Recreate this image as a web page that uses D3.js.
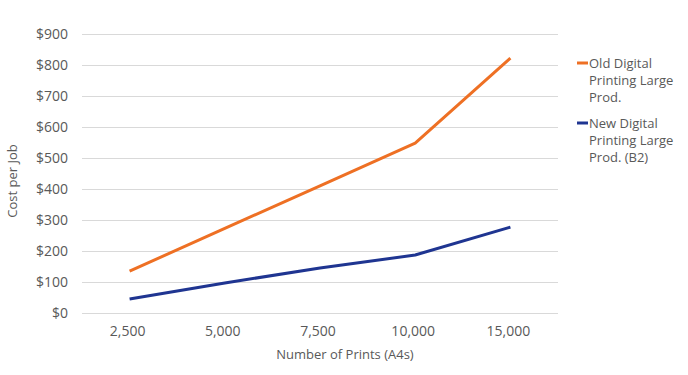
<!DOCTYPE html>
<html>
<head>
<meta charset="utf-8">
<script src="https://cdn.jsdelivr.net/npm/d3@7"></script>
<style>
  body { margin: 0; background: #fff; }
  svg text { font-family: "Open Sans", "Noto Sans", sans-serif; fill: #595959; }
</style>
</head>
<body>
<svg id="chart" width="688" height="375"></svg>
<script>
var categories = ['2,500', '5,000', '7,500', '10,000', '15,000'];
var oldDigital = [135, 273, 410, 548, 822];
var newDigital = [45, 97, 145, 187, 277];
var yTicks = [0, 100, 200, 300, 400, 500, 600, 700, 800, 900];
var seriesNames = [['Old Digital', 'Printing Large', 'Prod.'], ['New Digital', 'Printing Large', 'Prod. (B2)']];
var seriesColors = ['#ee7024', '#1f3591'];

var svg = d3.select('#chart');
var plotLeft = 82, plotRight = 558, plotTop = 34, plotBottom = 313;

var x = d3.scaleBand().domain(categories).range([plotLeft, plotRight]);
var y = d3.scaleLinear().domain([0, 900]).range([plotBottom, plotTop]);

// gridlines
svg.append('g').selectAll('line').data(yTicks)
  .enter().append('line')
  .attr('x1', plotLeft).attr('x2', plotRight)
  .attr('y1', function(d){ return y(d) + 0.5; })
  .attr('y2', function(d){ return y(d) + 0.5; })
  .attr('stroke', '#d9d9d9').attr('stroke-width', 1);

// y axis labels
var yAxis = d3.axisLeft(y).tickValues(yTicks).tickSize(0).tickPadding(0)
  .tickFormat(function(d){ return '$' + d; });
var yg = svg.append('g').attr('transform', 'translate(68,0)').call(yAxis);
yg.select('.domain').remove();
yg.selectAll('text').attr('font-size', 14).attr('fill', '#595959');

// x axis labels
var xAxis = d3.axisBottom(x).tickSize(0).tickPadding(0);
var xg = svg.append('g').attr('transform', 'translate(-2,' + 326 + ')').call(xAxis);
xg.select('.domain').remove();
xg.selectAll('text').attr('font-size', 14).attr('fill', '#595959');

// axis titles
svg.append('text').attr('x', 345).attr('y', 359)
  .attr('text-anchor', 'middle').attr('font-size', 13).text('Number of Prints (A4s)');
svg.append('text').attr('transform', 'translate(17,181) rotate(-90)')
  .attr('text-anchor', 'middle').attr('font-size', 13).text('Cost per Job');

// lines
var line = d3.line()
  .x(function(d, i){ return x(categories[i]) + x.bandwidth() / 2; })
  .y(function(d){ return y(d); });

[oldDigital, newDigital].forEach(function(s, i){
  svg.append('path').datum(s)
    .attr('d', line)
    .attr('fill', 'none')
    .attr('stroke', seriesColors[i])
    .attr('stroke-width', 3)
    .attr('stroke-linejoin', 'round');
});

// legend
var lg = svg.append('g');
seriesNames.forEach(function(lines, i){
  var y0 = 63 + i * 60;
  lg.append('line').attr('x1', 577).attr('x2', 588)
    .attr('y1', y0).attr('y2', y0)
    .attr('stroke', seriesColors[i]).attr('stroke-width', 3);
  lines.forEach(function(t, j){
    lg.append('text').attr('x', 589).attr('y', y0 + 5 + j * 17)
      .attr('font-size', 13).text(t);
  });
});
</script>
</body>
</html>
